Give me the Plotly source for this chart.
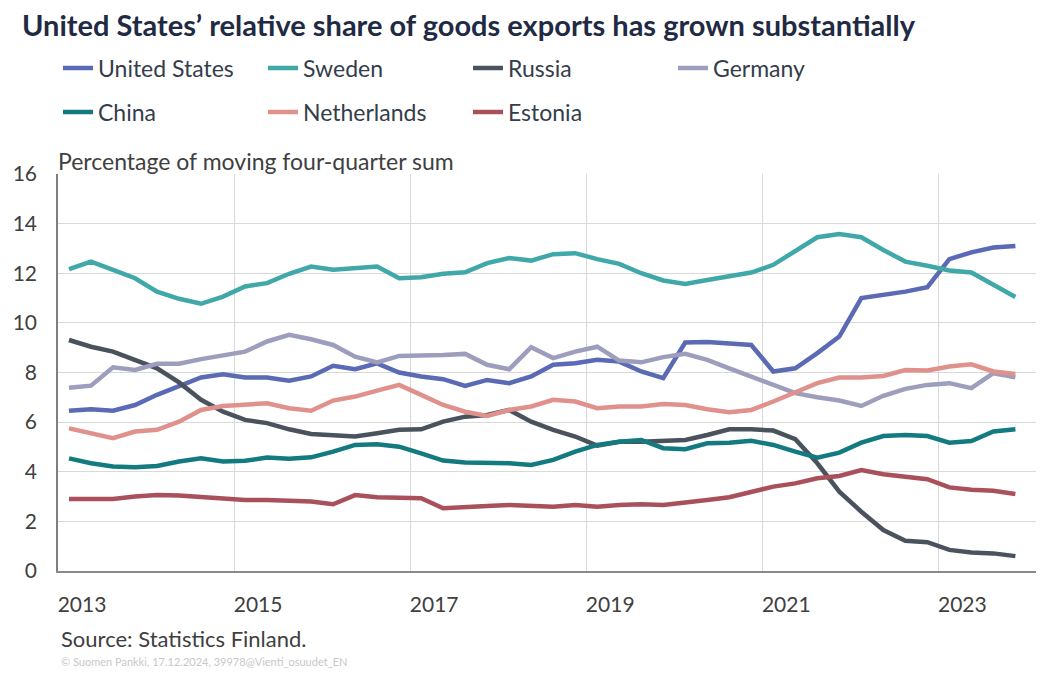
import plotly.graph_objects as go

# Quarterly periods 2013Q1 .. 2023Q4
years = list(range(2013, 2024))
quarters = [1, 2, 3, 4]
periods = [(y, q) for y in years for q in quarters]
x_vals = [y + (q - 0.5) / 4 for (y, q) in periods]

united_states = [6.46, 6.52, 6.46, 6.69, 7.10, 7.43, 7.80, 7.93, 7.80, 7.80, 7.67, 7.84,
                 8.27, 8.13, 8.37, 8.00, 7.84, 7.73, 7.46, 7.70, 7.57, 7.84, 8.31, 8.37,
                 8.51, 8.44, 8.04, 7.77, 9.21, 9.23, 9.15, 9.11, 8.04, 8.17, 8.78, 9.45,
                 11.00, 11.13, 11.26, 11.44, 12.57, 12.84, 13.04, 13.10]
sweden = [12.17, 12.47, 12.14, 11.80, 11.26, 10.97, 10.77, 11.06, 11.47, 11.60, 11.98, 12.27,
          12.14, 12.22, 12.27, 11.80, 11.84, 11.98, 12.04, 12.41, 12.61, 12.51, 12.77, 12.81,
          12.57, 12.38, 12.00, 11.71, 11.57, 11.73, 11.90, 12.03, 12.34, 12.88, 13.45, 13.58,
          13.45, 12.94, 12.47, 12.30, 12.11, 12.03, 11.53, 11.04]
russia = [9.31, 9.04, 8.84, 8.51, 8.17, 7.60, 6.90, 6.42, 6.09, 5.96, 5.71, 5.52,
          5.48, 5.42, 5.55, 5.69, 5.71, 6.02, 6.22, 6.29, 6.49, 6.02, 5.69, 5.42,
          5.05, 5.21, 5.21, 5.25, 5.28, 5.48, 5.71, 5.71, 5.66, 5.31, 4.34, 3.20,
          2.39, 1.65, 1.22, 1.16, 0.85, 0.75, 0.71, 0.60]
germany = [7.39, 7.47, 8.21, 8.10, 8.35, 8.35, 8.54, 8.68, 8.84, 9.25, 9.52, 9.34,
           9.11, 8.64, 8.41, 8.67, 8.67, 8.71, 8.75, 8.31, 8.13, 9.02, 8.58, 8.84,
           9.04, 8.48, 8.41, 8.62, 8.75, 8.51, 8.17, 7.84, 7.50, 7.17, 7.00, 6.87,
           6.65, 7.06, 7.34, 7.50, 7.57, 7.37, 7.97, 7.81]
china = [4.54, 4.34, 4.21, 4.18, 4.23, 4.41, 4.54, 4.41, 4.44, 4.57, 4.52, 4.58,
         4.81, 5.08, 5.11, 5.01, 4.74, 4.45, 4.37, 4.37, 4.34, 4.27, 4.48, 4.81,
         5.08, 5.21, 5.28, 4.95, 4.91, 5.15, 5.17, 5.25, 5.08, 4.81, 4.57, 4.77,
         5.17, 5.44, 5.48, 5.44, 5.17, 5.24, 5.62, 5.71]
netherlands = [5.75, 5.55, 5.35, 5.62, 5.69, 6.02, 6.49, 6.65, 6.69, 6.76, 6.56, 6.46,
               6.87, 7.03, 7.27, 7.50, 7.10, 6.69, 6.42, 6.25, 6.49, 6.63, 6.90, 6.83,
               6.56, 6.63, 6.63, 6.73, 6.69, 6.52, 6.40, 6.49, 6.83, 7.20, 7.57, 7.80,
               7.80, 7.86, 8.10, 8.08, 8.24, 8.33, 8.04, 7.94]
estonia = [2.90, 2.90, 2.90, 3.00, 3.06, 3.04, 2.97, 2.90, 2.86, 2.86, 2.84, 2.80,
           2.69, 3.06, 2.97, 2.93, 2.93, 2.53, 2.59, 2.62, 2.66, 2.62, 2.59, 2.66,
           2.59, 2.66, 2.69, 2.66, 2.78, 2.86, 2.97, 3.20, 3.40, 3.53, 3.74, 3.83,
           4.07, 3.90, 3.80, 3.70, 3.37, 3.27, 3.23, 3.10]

series_names = ["United States", "Sweden", "Russia", "Germany", "China", "Netherlands", "Estonia"]
series_values = [united_states, sweden, russia, germany, china, netherlands, estonia]
series_colors = ["#5a6ab4", "#40a8a8", "#4a535d", "#9d9dbd", "#137b80", "#e0918c", "#a9505b"]
series_legend = ["legend", "legend", "legend", "legend", "legend2", "legend2", "legend2"]

x_tick_vals = [2013, 2015, 2017, 2019, 2021, 2023]
x_tick_text = ["2013", "2015", "2017", "2019", "2021", "2023"]
y_tick_vals = [0, 2, 4, 6, 8, 10, 12, 14, 16]

FONT = "Lato, Carlito, Open Sans, sans-serif"
# The page body adds an 8px offset, so the figure is 8px smaller and all
# page positions below are converted to figure positions.
OFF = 8
W, H = 1044 - OFF, 673 - OFF
L, R, T, B = 58 - OFF, 0, 174 - OFF, 673 - 571
PW, PH = W - L - R, H - T - B


def px_x(px):
    return (px - OFF - L) / PW


def px_y(py):
    return (H - B - (py - OFF)) / PH


def cx(px):
    return (px - OFF) / W


def cy(py):
    return 1 - (py - OFF) / H


fig = go.Figure()
for name, vals, col, lg in zip(series_names, series_values, series_colors, series_legend):
    fig.add_trace(go.Scatter(
        x=x_vals, y=vals, name=name, mode="lines",
        line=dict(color=col, width=4.5),
        legend=lg, hoverinfo="skip",
    ))

legend_common = dict(
    orientation="h", xref="container", yref="container",
    x=cx(58), xanchor="left", yanchor="middle",
    font=dict(family=FONT, size=23, color="#353d4b"),
    entrywidth=160, entrywidthmode="pixels",
    bgcolor="rgba(0,0,0,0)", itemclick=False, itemdoubleclick=False,
)

fig.update_layout(
    width=W, height=H,
    margin=dict(l=L, r=R, t=T, b=B),
    paper_bgcolor="white", plot_bgcolor="white",
    font=dict(family=FONT, color="#404040"),
    title=dict(
        text="<b>United States’ relative share of goods exports has grown substantially</b>",
        x=cx(22), xanchor="left", xref="container",
        y=cy(26), yanchor="middle", yref="container",
        pad=dict(t=0, b=0, l=0, r=0),
        font=dict(family=FONT, size=29, color="#1f2a44"),
    ),
    legend=dict(legend_common, y=cy(68)),
    legend2=dict(legend_common, y=cy(112)),
    xaxis=dict(
        range=[2013, 2024.2], tickvals=x_tick_vals, ticktext=x_tick_text,
        showgrid=True, gridcolor="#d9d9d9", gridwidth=1,
        showline=True, linecolor="#8a8a8a", linewidth=2,
        ticks="", ticklabelshift=24, ticklabelstandoff=14,
        tickfont=dict(family=FONT, size=21, color="#404040"),
        zeroline=False, fixedrange=True,
    ),
    yaxis=dict(
        range=[0, 16], tickvals=y_tick_vals,
        showgrid=True, gridcolor="#d9d9d9", gridwidth=1,
        showline=True, linecolor="#7f7f7f", linewidth=1.5,
        ticks="", ticklabelstandoff=15,
        tickfont=dict(family=FONT, size=21, color="#404040"),
        zeroline=False, fixedrange=True,
    ),
    annotations=[
        dict(text="Percentage of moving four-quarter sum", xref="paper", yref="paper",
             x=px_x(56), xanchor="left", y=px_y(161), yanchor="middle", showarrow=False,
             font=dict(family=FONT, size=23, color="#404040")),
        dict(text="Source: Statistics Finland.", xref="paper", yref="paper",
             x=px_x(59), xanchor="left", y=px_y(638), yanchor="middle", showarrow=False,
             font=dict(family=FONT, size=22, color="#404040")),
        dict(text="© Suomen Pankki, 17.12.2024, 39978@Vienti_osuudet_EN", xref="paper",
             yref="paper", x=px_x(59), xanchor="left", y=px_y(661), yanchor="middle",
             showarrow=False, font=dict(family=FONT, size=11, color="#c8c8c8")),
    ],
)

fig.write_html("out.html")
